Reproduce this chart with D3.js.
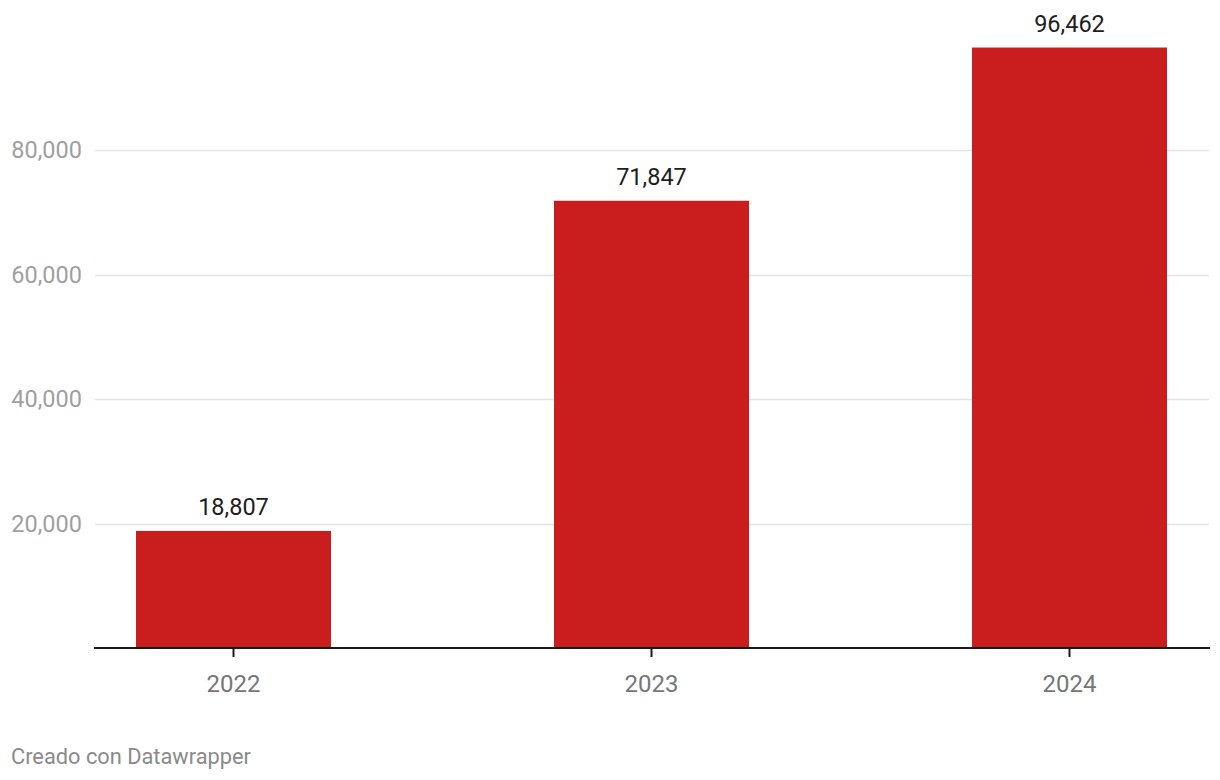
<!DOCTYPE html>
<html>
<head>
<meta charset="utf-8">
<script src="https://cdn.jsdelivr.net/npm/d3@7"></script>
<style>
  html, body { margin: 0; padding: 0; background: #fff; }
  svg { display: block; font-family: Roboto, "Noto Sans", sans-serif; }
</style>
</head>
<body>
<svg id="chart" width="1220" height="780"></svg>
<script>
const categories = ["2022", "2023", "2024"];
const values = [18807, 71847, 96462];
const yTicks = [20000, 40000, 60000, 80000];
const footer = "Creado con Datawrapper";

const svg = d3.select("#chart");
const fmt = d3.format(",");

const y = d3.scaleLinear().domain([0, 80000]).range([648, 150]);
const x = d3.scaleBand().domain(categories).range([136, 1167]).paddingInner(223 / 418).paddingOuter(0);

// gridlines
svg.append("g").selectAll("line").data(yTicks).join("line")
  .attr("x1", 95).attr("x2", 1209)
  .attr("y1", d => Math.round(y(d)) + 0.5).attr("y2", d => Math.round(y(d)) + 0.5)
  .attr("stroke", "#e3e3e3").attr("stroke-width", 1.5);

// y labels
svg.append("g").selectAll("text").data(yTicks).join("text")
  .attr("x", 82).attr("y", d => y(d)).attr("dy", "0.36em")
  .attr("text-anchor", "end")
  .attr("fill", "#9f9f9f").attr("font-size", 23.5)
  .text(d => fmt(d));

// bars
svg.append("g").selectAll("rect").data(values).join("rect")
  .attr("x", (d, i) => x(categories[i]))
  .attr("width", x.bandwidth())
  .attr("y", d => y(d))
  .attr("height", d => y(0) - y(d))
  .attr("fill", "#c91d1e");

// value labels
svg.append("g").selectAll("text").data(values).join("text")
  .attr("x", (d, i) => x(categories[i]) + x.bandwidth() / 2)
  .attr("y", d => y(d) - 16)
  .attr("text-anchor", "middle")
  .attr("fill", "#1d1d1d").attr("font-size", 23.5)
  .text(d => fmt(d));

// baseline
svg.append("line")
  .attr("x1", 94).attr("x2", 1210)
  .attr("y1", y(0)).attr("y2", y(0))
  .attr("stroke", "#1a1a1a").attr("stroke-width", 2);

// x ticks and labels
const xg = svg.append("g");
xg.selectAll("line").data(categories).join("line")
  .attr("x1", d => x(d) + x.bandwidth() / 2).attr("x2", d => x(d) + x.bandwidth() / 2)
  .attr("y1", y(0)).attr("y2", y(0) + 9)
  .attr("stroke", "#1a1a1a").attr("stroke-width", 2);
xg.selectAll("text").data(categories).join("text")
  .attr("x", d => x(d) + x.bandwidth() / 2)
  .attr("y", 692)
  .attr("text-anchor", "middle")
  .attr("fill", "#777").attr("font-size", 24)
  .text(d => d);

// footer
svg.append("text")
  .attr("x", 11).attr("y", 764)
  .attr("fill", "#8a8a8a").attr("font-size", 21.8)
  .text(footer);
</script>
</body>
</html>
